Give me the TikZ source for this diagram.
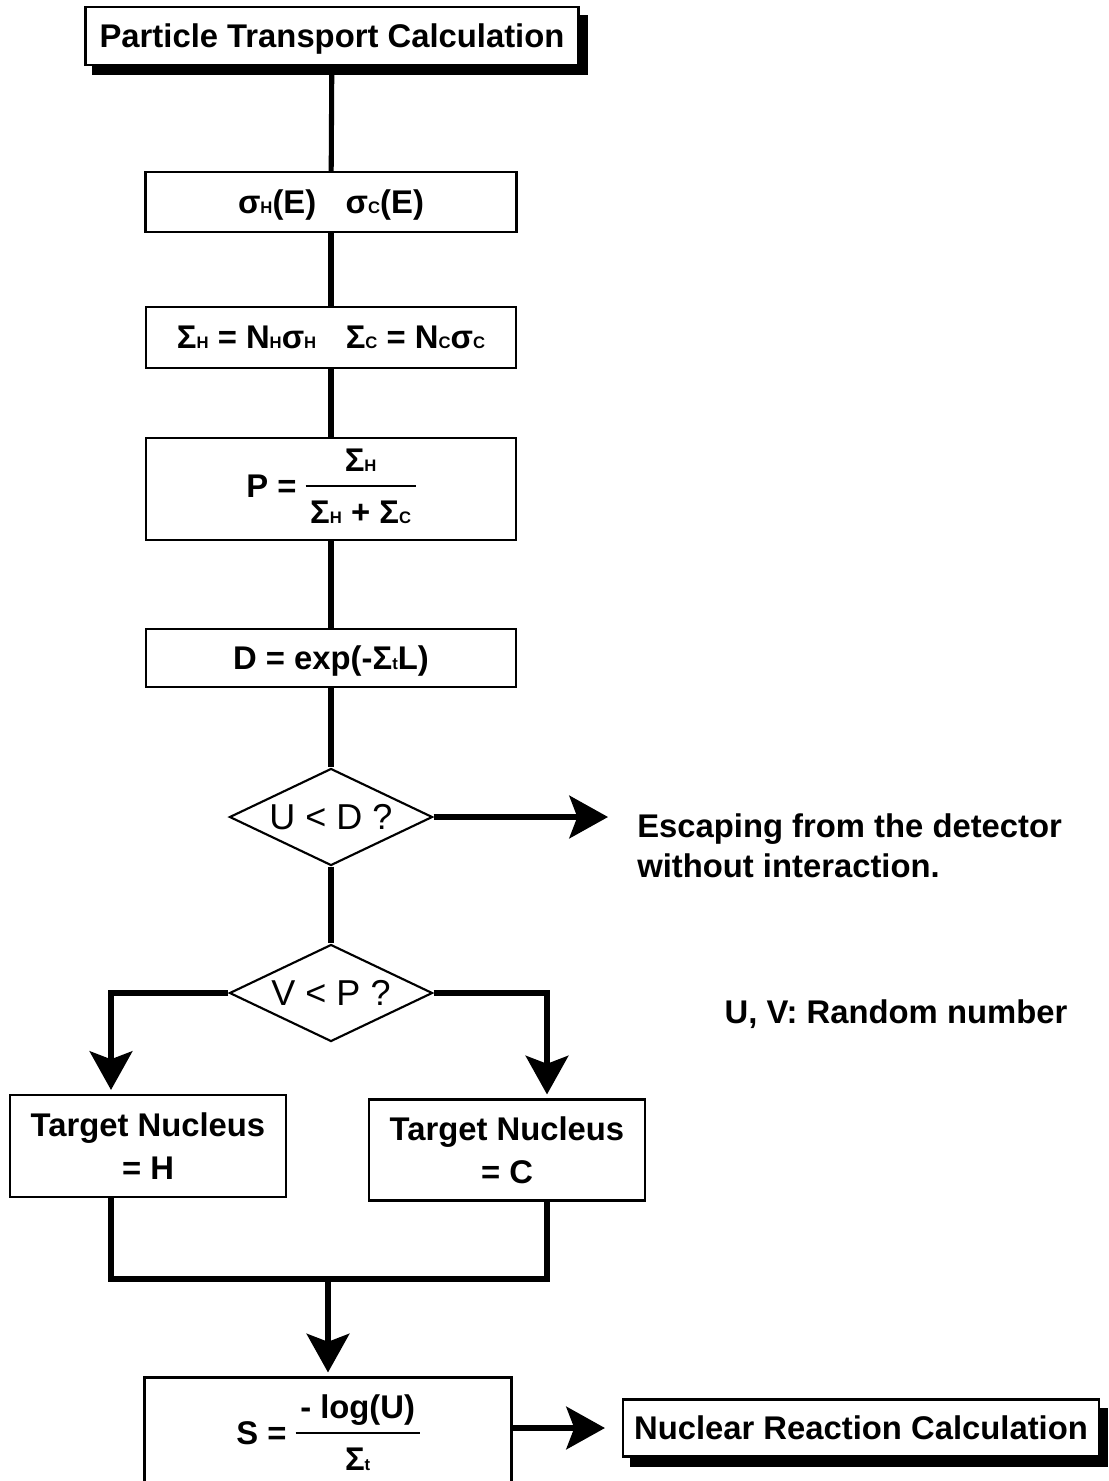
\documentclass[tikz,border=0pt]{standalone}
\usepackage{fontspec}
\setmainfont{Liberation Sans}
\usetikzlibrary{arrows.meta,shapes.geometric,shadows,calc}

% small index set on the baseline
\newcommand{\ix}[1]{{\fontsize{12.5}{13}\selectfont #1}}
% built-up fraction with a heavy rule
\newcommand{\stackfrac}[2]{$\vcenter{\hbox{\setlength{\arrayrulewidth}{2pt}\setlength{\tabcolsep}{3.5pt}\begin{tabular}{c}#1\\\hline\rule{0pt}{27pt}#2\end{tabular}}}$}

\tikzset{
  box/.style={draw, line width=1.6pt, fill=white, inner sep=0pt, align=center,
    font=\bfseries\fontsize{24.6}{32}\selectfont},
  oneline/.style={text depth=0pt},
  shadowbox/.style={box, oneline, copy shadow={shadow xshift=6pt, shadow yshift=-7pt, fill=black, draw=black}},
  dec/.style={diamond, draw, line width=1.6pt, fill=white, inner sep=0pt, aspect=2.1,
    minimum width={203*0.75pt}, minimum height={97*0.75pt}, font=\fontsize{27}{30}\selectfont},
  conn/.style={line width=3.8pt},
  tip/.style={-{Stealth[length=29pt,width=32pt,inset=6pt]}},
  note/.style={inner sep=0pt, font=\bfseries\fontsize{24.6}{30}\selectfont},
}

\begin{document}
\begin{tikzpicture}[x=0.75pt, y=-0.75pt]
\useasboundingbox (0,0) rectangle (1108,1481);
\clip (0,0) rectangle (1108,1481);

% main column
\node[shadowbox, minimum width={493*0.75pt}, minimum height={58*0.75pt}] (ptc) at (332,36) {Particle Transport Calculation};
\node[box, oneline, minimum width={371*0.75pt}, minimum height={60*0.75pt}] (xs) at (331,202) {σ\ix{H}(E)\hspace{0.9em}σ\ix{C}(E)};
\node[box, oneline, minimum width={370*0.75pt}, minimum height={61*0.75pt}] (mac) at (331,337.5) {Σ\ix{H} = N\ix{H}σ\ix{H}\hspace{0.9em}Σ\ix{C} = N\ix{C}σ\ix{C}};
\node[box, minimum width={370*0.75pt}, minimum height={102*0.75pt}] (prob) at (331,489) {P = \stackfrac{Σ\ix{H}}{Σ\ix{H} + Σ\ix{C}}};
\node[box, oneline, minimum width={370*0.75pt}, minimum height={58*0.75pt}] (dprob) at (331,658) {D = exp(-Σ\ix{t}L)};
\node[dec] (d1) at (331,817) {U < D ?};
\node[dec] (d2) at (331,993) {V < P ?};

% branches
\node[box, minimum width={276*0.75pt}, minimum height={102*0.75pt}] (hbox) at (148,1146) {Target Nucleus\\= H};
\node[box, minimum width={276*0.75pt}, minimum height={101*0.75pt}] (cbox) at (507,1150) {Target Nucleus\\= C};
\node[box, minimum width={367*0.75pt}, minimum height={117*0.75pt}] (sbox) at (328,1436) {S = \stackfrac{- log(U)}{Σ\ix{t}}};
\node[shadowbox, minimum width={476*0.75pt}, minimum height={57*0.75pt}] (nuc) at (861,1428) {Nuclear Reaction Calculation};

% side notes
\node[note, anchor=west, align=left] (esc) at (637,846) {Escaping from the detector\\without interaction.};
\node[note] (rnd) at (896,1014) {U, V: Random number};

% connectors
\draw[conn] (ptc) -- (xs);
\draw[conn] (xs) -- (mac);
\draw[conn] (mac) -- (prob);
\draw[conn] (prob) -- (dprob);
\draw[conn] (dprob) -- (d1.north);
\draw[conn] (d1.south) -- (d2.north);
\draw[conn, tip] (d1.east) -- ($(d1.east -| esc.west)+(-29,0)$);
\draw[conn, tip, shorten >=3pt] (d2.west) -| ($(hbox.north)+(-37,0)$);
\draw[conn, tip, shorten >=3pt] (d2.east) -| ($(cbox.north)+(40,0)$);
\coordinate (merge) at (328,1279);
\draw[conn] ($(hbox.south)+(-37,0)$) |- (merge) -| ($(cbox.south)+(40,0)$);
\draw[conn, tip, shorten >=3pt] (merge) -- (sbox.north);
\draw[conn, tip] (sbox.east |- nuc.west) -- ($(nuc.west)+(-17,0)$);
\end{tikzpicture}
\end{document}
